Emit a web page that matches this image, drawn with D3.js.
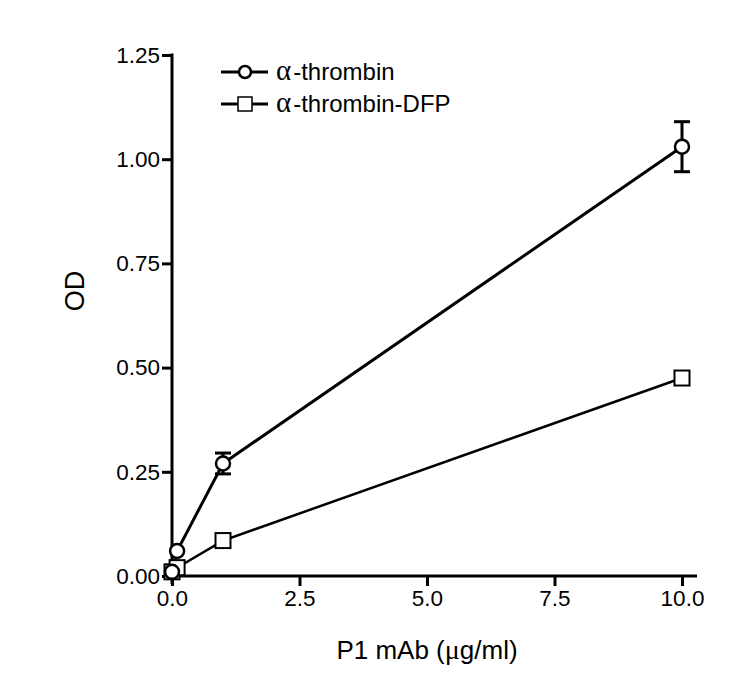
<!DOCTYPE html>
<html>
<head>
<meta charset="utf-8">
<script src="https://cdn.jsdelivr.net/npm/d3@7"></script>
<style>
  body { margin: 0; background: #fff; }
  text { font-family: "Liberation Sans", Arial, sans-serif; fill: #000; }
</style>
</head>
<body>
<svg id="chart" width="750" height="688"></svg>
<script>
// doses of P1 mAb (ug/ml)
var doses = [0, 0.1, 1, 10];
var thrombin = [0.01, 0.06, 0.27, 1.03];
var thrombinErr = [0, 0, 0.025, 0.06];
var dfp = [0.01, 0.02, 0.085, 0.475];
var xTicks = [0, 2.5, 5, 7.5, 10];
var yTicks = [0, 0.25, 0.5, 0.75, 1.0, 1.25];

var svg = d3.select("#chart");

var x = d3.scaleLinear().domain([0, 10]).range([172, 682]);
var y = d3.scaleLinear().domain([0, 1.25]).range([576, 55]);

// axes
var yAxis = svg.append("g").attr("transform", "translate(172,0)")
  .call(d3.axisLeft(y).tickValues(yTicks).tickFormat(d3.format(".2f")).tickSizeInner(10).tickSizeOuter(0).tickPadding(2));
var xAxis = svg.append("g").attr("transform", "translate(0,576)")
  .call(d3.axisBottom(x).tickValues(xTicks).tickFormat(d3.format(".1f")).tickSizeInner(10).tickSizeOuter(0).tickPadding(4));

[yAxis, xAxis].forEach(function(a){
  a.attr("font-size", null).attr("font-family", null);
  a.select(".domain").remove();
  a.selectAll("line").attr("stroke", "#000").attr("stroke-width", 3);
  a.selectAll("text").style("font-size", "22.5px");
});
// axis lines, drawn slightly past the ends like the original
svg.append("line").attr("x1", 172).attr("x2", 172).attr("y1", y(1.25) - 1.5).attr("y2", y(0) + 8)
  .attr("stroke", "#000").attr("stroke-width", 3);
svg.append("line").attr("x1", 166).attr("x2", 697).attr("y1", y(0)).attr("y2", y(0))
  .attr("stroke", "#000").attr("stroke-width", 3);

// axis titles
svg.append("text").attr("transform", "translate(84,291) rotate(-90)")
  .attr("text-anchor", "middle").style("font-size", "27px").text("OD");
var xt = svg.append("text").attr("x", 427).attr("y", 659).attr("text-anchor", "middle").style("font-size", "26px");
xt.append("tspan").text("P1 mAb (");
xt.append("tspan").style("font-family", "Liberation Serif, serif").style("font-size", "28px").text("\u03bc");
xt.append("tspan").text("g/ml)");

var line = d3.line().x(function(d){ return x(d[0]); }).y(function(d){ return y(d[1]); });

// DFP series
var dfpPts = doses.map(function(d, i){ return [d, dfp[i]]; });
svg.append("path").datum(dfpPts).attr("d", line).attr("fill", "none").attr("stroke", "#000").attr("stroke-width", 2.5);

// thrombin series with error bars
var thrPts = doses.map(function(d, i){ return [d, thrombin[i], thrombinErr[i]]; });
svg.append("path").datum(thrPts).attr("d", line).attr("fill", "none").attr("stroke", "#000").attr("stroke-width", 3);

var eb = svg.selectAll(".err").data(thrPts.filter(function(d){ return d[2] > 0; })).enter().append("g");
eb.append("line").attr("x1", function(d){ return x(d[0]); }).attr("x2", function(d){ return x(d[0]); })
  .attr("y1", function(d){ return y(d[1] + d[2]); }).attr("y2", function(d){ return y(d[1] - d[2]); })
  .attr("stroke", "#000").attr("stroke-width", 3);
[1, -1].forEach(function(s){
  eb.append("line").attr("x1", function(d){ return x(d[0]) - 8; }).attr("x2", function(d){ return x(d[0]) + 8; })
    .attr("y1", function(d){ return y(d[1] + s * d[2]); }).attr("y2", function(d){ return y(d[1] + s * d[2]); })
    .attr("stroke", "#000").attr("stroke-width", 3);
});

svg.selectAll(".sq").data(dfpPts).enter().append("rect")
  .attr("x", function(d){ return x(d[0]) - 7.5; }).attr("y", function(d){ return y(d[1]) - 7.5; })
  .attr("width", 15).attr("height", 15).attr("fill", "#fff").attr("stroke", "#000").attr("stroke-width", 2);

svg.selectAll(".ci").data(thrPts).enter().append("circle")
  .attr("cx", function(d){ return x(d[0]); }).attr("cy", function(d){ return y(d[1]); })
  .attr("r", 7).attr("fill", "#fff").attr("stroke", "#000").attr("stroke-width", 2.5);

// legend
var legend = [
  { name: "-thrombin", shape: "circle", y: 72 },
  { name: "-thrombin-DFP", shape: "square", y: 104 }
];
var lg = svg.selectAll(".lg").data(legend).enter().append("g")
  .attr("transform", function(d){ return "translate(0," + d.y + ")"; });
lg.append("line").attr("x1", 221).attr("x2", 268).attr("y1", 0).attr("y2", 0)
  .attr("stroke", "#000").attr("stroke-width", 3);
lg.filter(function(d){ return d.shape === "circle"; }).append("circle")
  .attr("cx", 245).attr("cy", 0).attr("r", 6).attr("fill", "#fff").attr("stroke", "#000").attr("stroke-width", 2.5);
lg.filter(function(d){ return d.shape === "square"; }).append("rect")
  .attr("x", 238).attr("y", -7).attr("width", 14).attr("height", 14).attr("fill", "#fff").attr("stroke", "#000").attr("stroke-width", 1.5);
var lt = lg.append("text").attr("x", 276).attr("y", 8).style("font-size", "24px");
lt.append("tspan").style("font-family", "Liberation Serif, serif").style("font-size", "29px").text("\u03b1");
lt.append("tspan").attr("dx", 2).text(function(d){ return d.name; });
</script>
</body>
</html>
